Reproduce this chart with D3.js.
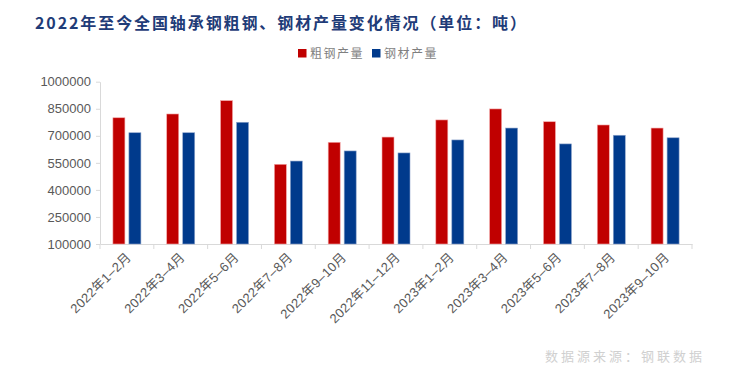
<!DOCTYPE html>
<html><head><meta charset="utf-8">
<script src="https://cdn.jsdelivr.net/npm/d3@7"></script>
<style>body{margin:0;background:#fff}svg{display:block}</style>
</head><body>
<svg id="c" width="730" height="372"></svg>
<script>
const categories = ["2022年1–2月","2022年3–4月","2022年5–6月","2022年7–8月","2022年9–10月","2022年11–12月","2023年1–2月","2023年3–4月","2023年5–6月","2023年7–8月","2023年9–10月"];
const crudeSteel = [800000,821000,895000,542000,664000,693000,788000,849000,778000,760000,743000];
const steelProducts = [717000,717000,775000,560000,616000,605000,677000,743000,655000,703000,689000];
const seriesNames = ["粗钢产量","钢材产量"];
const yTicks = [100000,250000,400000,550000,700000,850000,1000000];
const titleText = "2022年至今全国轴承钢粗钢、钢材产量变化情况（单位：吨）";
const sourceText = "数据源来源：钢联数据";

const svg = d3.select("#c");
const colors = ["#C00000","#003A8C"];
const m = {l:100, r:692, t:81.7, b:244};
const x = d3.scaleBand().domain(categories).range([m.l, m.r]).paddingInner(0).paddingOuter(0);
const y = d3.scaleLinear().domain([100000,1000000]).range([m.b, m.t]);
const cjk = "'Noto Sans CJK SC', sans-serif";

svg.append("text").attr("x",35).attr("y",29).attr("font-family",cjk).attr("font-weight","bold")
  .attr("font-size",16).attr("fill","#1F3C78").attr("letter-spacing","1.9").text(titleText);

// legend
const lg = svg.append("g");
const lx = [298, 372];
seriesNames.forEach((n,i)=>{
  lg.append("rect").attr("x",lx[i]).attr("y",49).attr("width",8.5).attr("height",8.5).attr("fill",colors[i]);
  lg.append("text").attr("x",lx[i]+12).attr("y",58).attr("font-family",cjk).attr("font-size",12)
    .attr("fill","#7f7f7f").attr("letter-spacing","1.5").text(n);
});

// y axis
const ya = svg.append("g").attr("transform",`translate(${m.l},0)`)
  .call(d3.axisLeft(y).tickValues(yTicks).tickFormat(d3.format("d")).tickSize(4).tickSizeOuter(0));
ya.select(".domain").attr("stroke","#d9d9d9");
ya.selectAll(".tick line").attr("stroke","#d9d9d9");
ya.selectAll(".tick text").attr("font-family","'Liberation Sans', Arial, sans-serif").attr("font-size",13)
  .attr("fill","#595959").attr("dx",-2);

// x axis
const xa = svg.append("g").attr("transform",`translate(0,${m.b})`)
  .call(d3.axisBottom(x).tickSize(0).tickFormat(""));
xa.select(".domain").attr("stroke","#d9d9d9");
const bounds = categories.map(c=>x(c)).concat([m.r]);
svg.append("g").selectAll("line").data(bounds).join("line")
  .attr("x1",d=>d).attr("x2",d=>d).attr("y1",m.b).attr("y2",m.b+5).attr("stroke","#d9d9d9");

// bars
const bw = 12, gap = 4;
[crudeSteel, steelProducts].forEach((arr,si)=>{
  svg.append("g").selectAll("rect").data(arr).join("rect")
    .attr("x",(d,i)=>x(categories[i]) + x.bandwidth()/2 - (bw*2+gap)/2 + si*(bw+gap))
    .attr("y",d=>y(d)).attr("width",bw).attr("height",d=>y(100000)-y(d))
    .attr("fill",colors[si]).attr("stroke", si===0?"#f4a8a8":"#8fa6cc").attr("stroke-width",0.6);
});

// x labels
svg.append("g").selectAll("text").data(categories).join("text")
  .attr("transform",d=>`translate(${x(d)+x.bandwidth()/2+5},${m.b+14}) rotate(-45)`)
  .attr("text-anchor","end").attr("font-family","'Liberation Sans', "+cjk).attr("font-size",13)
  .attr("letter-spacing","0.3")
  .attr("fill","#595959").text(d=>d);

svg.append("text").attr("x",545).attr("y",361).attr("font-family",cjk).attr("font-size",13)
  .attr("fill","#d0d0d0").attr("letter-spacing","3").text(sourceText);
</script>
</body></html>
